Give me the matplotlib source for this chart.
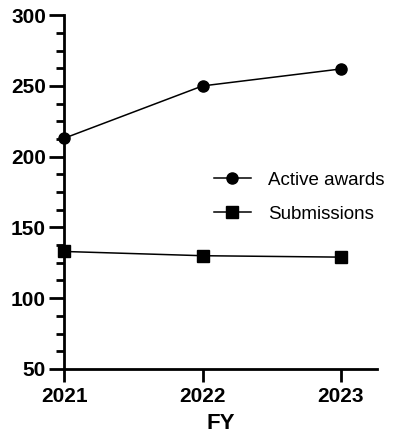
import matplotlib.pyplot as plt
from matplotlib.ticker import MultipleLocator

plt.rcParams['font.family'] = ['Liberation Sans', 'DejaVu Sans']

years = [2021, 2022, 2023]
active_awards = [213, 250, 262]
submissions = [133, 130, 129]

fig = plt.figure(figsize=(4.11, 4.34), dpi=100)
ax = fig.add_axes([0.156, 0.150, 0.761, 0.815])

ax.plot(years, active_awards, color='black', lw=1.1, marker='o', ms=8,
        label='Active awards', clip_on=False, zorder=3)
ax.plot(years, submissions, color='black', lw=1.1, marker='s', ms=8,
        label='Submissions', clip_on=False, zorder=3)

ax.set_xlim(2021, 2023.26)
ax.set_ylim(50, 300)
ax.set_xticks(years)
ax.yaxis.set_major_locator(MultipleLocator(50))
ax.yaxis.set_minor_locator(MultipleLocator(12.5))

for side in ('top', 'right'):
    ax.spines[side].set_visible(False)
for side in ('left', 'bottom'):
    ax.spines[side].set_linewidth(2)

ax.tick_params(axis='y', which='major', width=2, length=11, labelsize=15, pad=2)
ax.tick_params(axis='y', which='minor', width=2, length=6)
ax.tick_params(axis='x', which='major', width=2, length=9, labelsize=15, pad=4)
for lab in ax.get_xticklabels() + ax.get_yticklabels():
    lab.set_fontweight('bold')

ax.set_xlabel('FY', fontsize=16, fontweight='bold', labelpad=5)

ax.legend(loc='center left', bbox_to_anchor=(0.424, 0.485), frameon=False,
          fontsize=13.5, handlelength=2.0, handletextpad=0.9, labelspacing=0.9)

fig.savefig('out.png', dpi=100)
